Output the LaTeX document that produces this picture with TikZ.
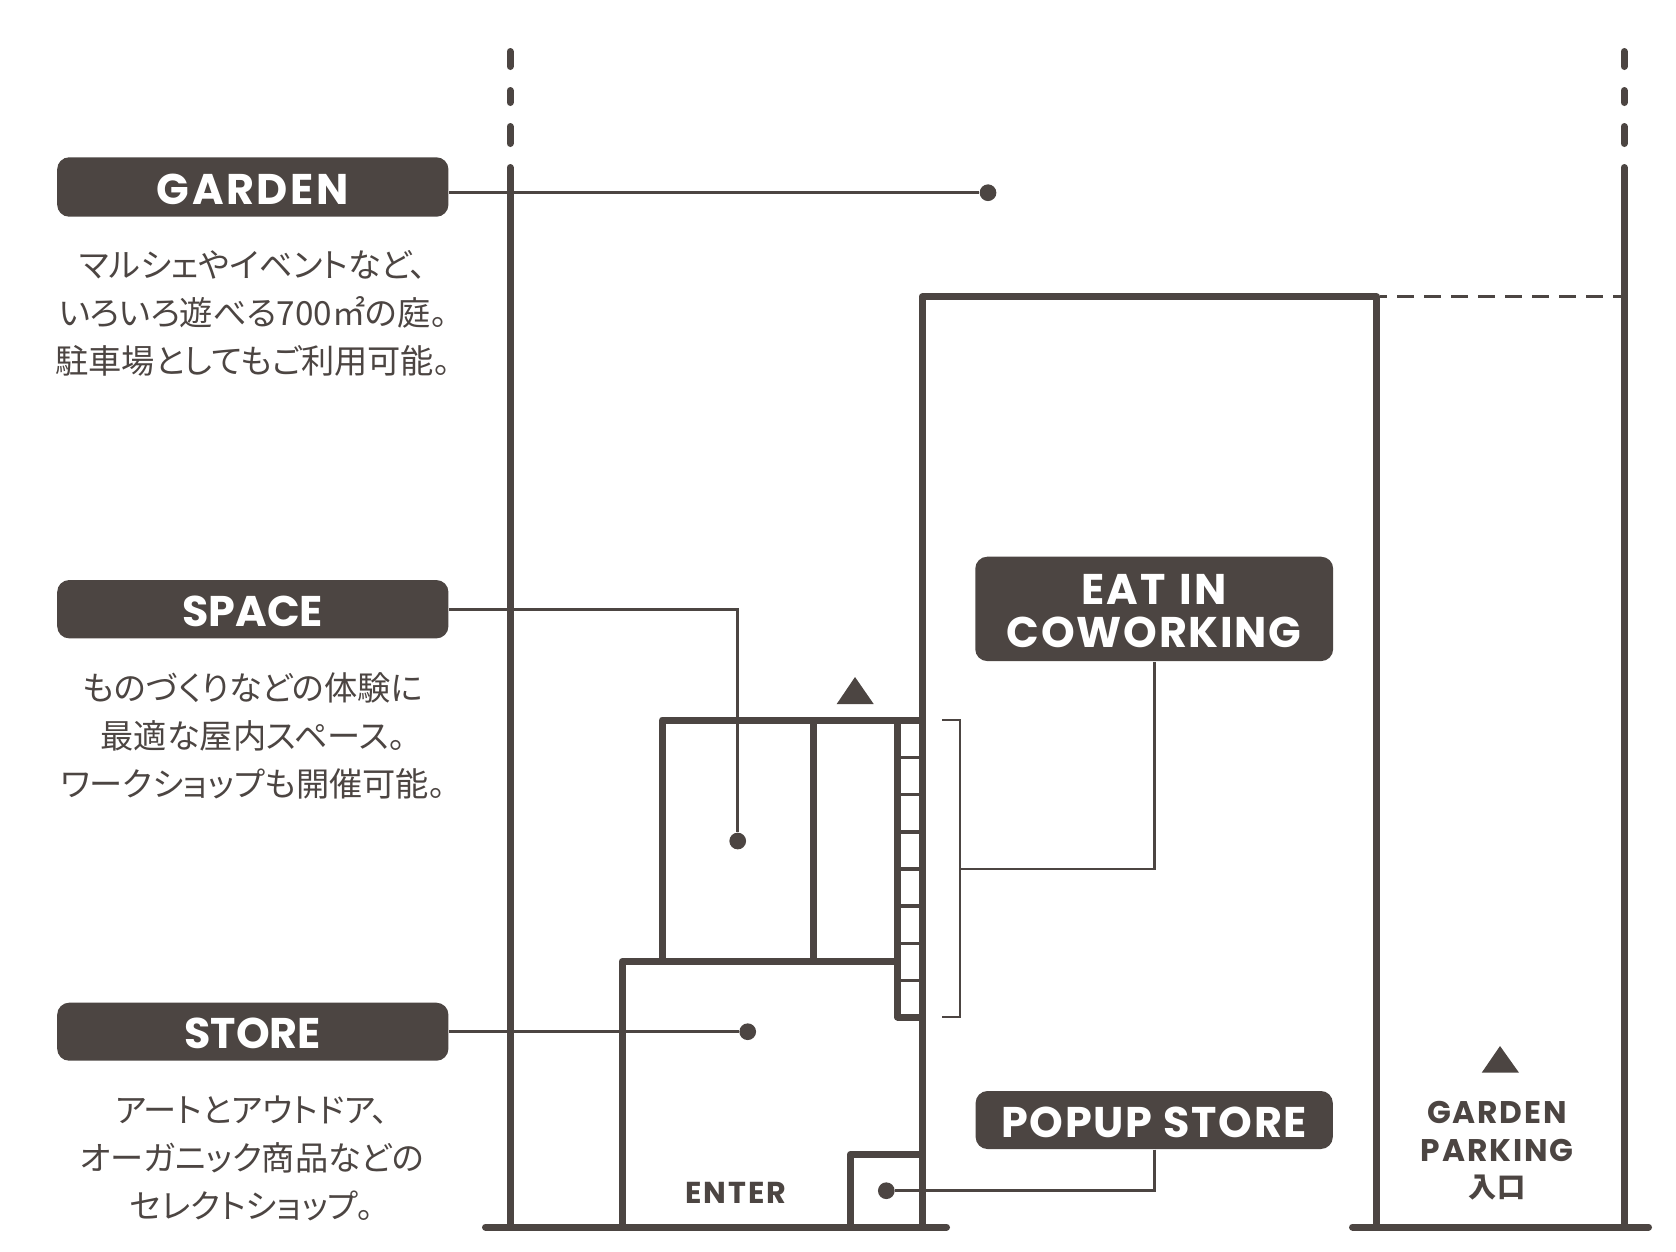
\documentclass[tikz,border=0pt]{standalone}
\usepackage{fontspec}
\setmainfont[RawFeature=+palt]{Noto Sans CJK JP}
\newfontfamily\jpfont{Noto Sans CJK JP}
\newfontfamily\tagfont[LetterSpace=4]{Poppins}
\newfontfamily\tighttagfont{Poppins}
\newfontfamily\smalltagfont[LetterSpace=6]{Poppins}
\definecolor{ink}{HTML}{4C4542}
\tikzset{
  wallline/.style={draw=ink,line width=0.07cm,line join=round},
  groundline/.style={draw=ink,line width=0.07cm,line cap=round},
  rungline/.style={draw=ink,line width=0.036cm},
  leader/.style={draw=ink,line width=0.026cm},
  spot/.style={circle,fill=ink,inner sep=0pt,minimum size=0.167cm},
  tagbox/.style={fill=ink,text=white,rounded corners=0.12cm,inner sep=0pt,align=center,text height=0.345cm,
    font=\tagfont\bfseries\fontsize{12.2}{12.2}\selectfont},
  note/.style={text=ink,inner sep=0pt,align=center,font=\fontsize{9.45}{13.66}\selectfont},
  smallcaps/.style={text=ink,inner sep=0pt,align=center,font=\smalltagfont\bfseries\fontsize{8.6}{10.7}\selectfont}
}
\begin{document}
\begin{tikzpicture}[x=0.01cm,y=-0.01cm]
\useasboundingbox (0,0) rectangle (1676,1251);

% left boundary
\draw[groundline] (510,51.5) -- (510,66.5);
\draw[groundline] (510,90.5) -- (510,102.5);
\draw[groundline] (510,126.5) -- (510,143.5);
\draw[groundline] (510,167.5) -- (510,1227);

% right boundary
\draw[groundline] (1624,51.5) -- (1624,66.5);
\draw[groundline] (1624,90.5) -- (1624,102.5);
\draw[groundline] (1624,126.5) -- (1624,143.5);
\draw[groundline] (1624,167.5) -- (1624,1227);

% ground
\draw[groundline] (485.5,1227) -- (946.5,1227);
\draw[groundline] (1352.5,1227) -- (1648.5,1227);

% building
\draw[wallline] (922.3,1227) -- (922.3,296.7) -- (1376.7,296.7) -- (1376.7,1227);
\draw[leader,dash pattern=on 0.167cm off 0.103cm,dash phase=0.1cm] (1380,296.7) -- (1621,296.7);

% rooms
\draw[wallline] (622.3,1227) -- (622.3,961.3) -- (897.7,961.3);
\draw[wallline] (662.3,961.3) -- (662.3,720) -- (922.3,720);
\draw[wallline] (813.3,720) -- (813.3,961.3);
\draw[wallline] (922.3,1017) -- (897.7,1017) -- (897.7,720);
\draw[wallline] (850.3,1227) -- (850.3,1154.3) -- (922.3,1154.3);

% shelf
\draw[rungline] (897.7,757.3) -- (922.3,757.3);
\draw[rungline] (897.7,794.3) -- (922.3,794.3);
\draw[rungline] (897.7,831.7) -- (922.3,831.7);
\draw[rungline] (897.7,869) -- (922.3,869);
\draw[rungline] (897.7,906) -- (922.3,906);
\draw[rungline] (897.7,943.3) -- (922.3,943.3);
\draw[rungline] (897.7,980.3) -- (922.3,980.3);

% arrows
\fill[ink] (855,677) -- (873.7,704) -- (836.7,704) -- cycle;
\fill[ink] (1500,1046) -- (1519,1072.7) -- (1481.7,1072.7) -- cycle;

% tags
\node[tagbox,minimum width=3.91cm,minimum height=0.594cm] (gardentag) at (252.8,187) {\smalltagfont\bfseries GARDEN};
\node[tagbox,minimum width=3.91cm,minimum height=0.583cm] (spacetag) at (252.8,609.2) {\tighttagfont\bfseries SPACE};
\node[tagbox,minimum width=3.91cm,minimum height=0.58cm] (storetag) at (252.8,1031.7) {\tighttagfont\bfseries STORE};
\node[tagbox,minimum width=3.577cm,minimum height=1.043cm,text height=0.77cm] (eattag) at (1154.2,608.9) {EAT\hspace{1pt} IN\\COWORKING};
\node[tagbox,minimum width=3.57cm,minimum height=0.58cm] (popuptag) at (1154.2,1120) {POPUP STORE};

% notes
\node[note] (gardennote) at (253,313) {マルシェやイベントなど、\\いろいろ遊べる700㎡の庭。\\駐車場としてもご利用可能。};
\node[note] (spacenote) at (253,735.5) {ものづくりなどの体験に\\最適な屋内スペース。\\ワークショップも開催可能。};
\node[note] (storenote) at (252,1158) {アートとアウトドア、\\オーガニック商品などの\\セレクトショップ。};

\node[smallcaps] (entertext) at (736,1192.5) {ENTER};
\node[smallcaps,font=\smalltagfont\bfseries\fontsize{8.9}{10.7}\selectfont] (parkingtext) at (1497,1151) {GARDEN\\PARKING\\[-0.4pt]{\jpfont\fontsize{8}{10.7}\selectfont\bfseries 入口}};

% spots
\node[spot] (gardenspot) at (988,192.7) {};
\node[spot] (spacespot) at (737.7,841) {};
\node[spot] (storespot) at (747.7,1031.7) {};
\node[spot] (popupspot) at (886.3,1190.7) {};

% bracket
\coordinate (brackettop) at (942,720);
\coordinate (bracketbottom) at (942,1017);
\coordinate (bracketmid) at (960,869);
\draw[leader] (brackettop) -- (960,720) -- (960,1017) -- (bracketbottom);

% connectors
\draw[leader] (gardentag.east |- gardenspot) -- (gardenspot);
\draw[leader] (spacetag.east) -| (spacespot);
\draw[leader] (storetag.east) -- (storespot);
\draw[leader] (eattag.south) |- (bracketmid);
\draw[leader] (popuptag.south) |- (popupspot);
\end{tikzpicture}
\end{document}
